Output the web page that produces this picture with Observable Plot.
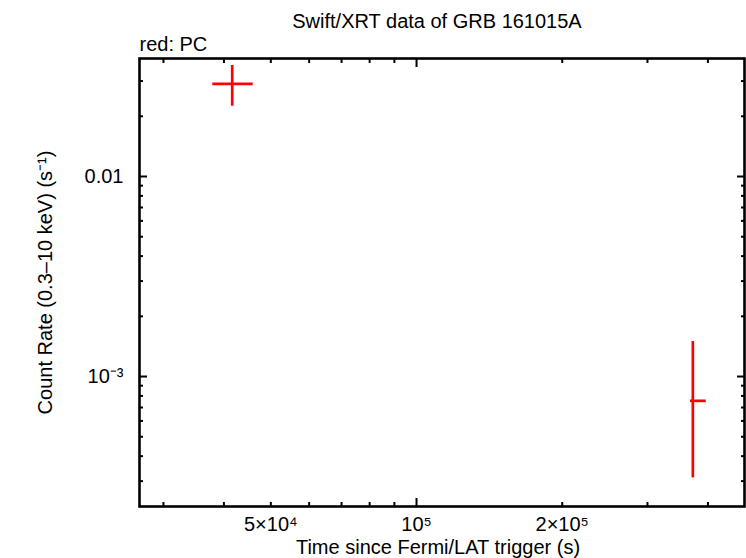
<!DOCTYPE html>
<html><head><meta charset="utf-8">
<script src="https://cdn.jsdelivr.net/npm/d3@7"></script>
<script src="https://cdn.jsdelivr.net/npm/@observablehq/plot@0.6"></script>
<style>body{margin:0;background:#fff} #chart svg{font-family:"Liberation Sans",Arial,sans-serif;overflow:visible}</style>
</head><body><div id="chart"></div>
<script>
const title = "Swift/XRT data of GRB 161015A";
const subtitle = "red: PC";
const xLabel = "Time since Fermi/LAT trigger (s)";
const yLabel = "Count Rate (0.3–10 keV) (s⁻¹)";
const xDomain = [26770, 476000];
const yDomain = [2.24e-4, 0.0389];
const time = [41610, 372300];
const timeLo = [37940, 368200];
const timeHi = [45980, 396800];
const rate = [0.02907, 7.56e-4];
const rateLo = [0.02246, 3.115e-4];
const rateHi = [0.03589, 1.496e-3];
const xMajorTicks = [1e5];
const xMinorTicks = [3e4, 4e4, 5e4, 6e4, 7e4, 8e4, 9e4, 2e5, 3e5, 4e5];
const xTickValues = [5e4, 1e5, 2e5];
const xTickLabels = ["5×10⁴", "10⁵", "2×10⁵"];
const yMajorTicks = [1e-3, 1e-2];
const yMinorTicks = [3e-4, 4e-4, 5e-4, 6e-4, 7e-4, 8e-4, 9e-4, 2e-3, 3e-3, 4e-3, 5e-3, 6e-3, 7e-3, 8e-3, 9e-3, 2e-2, 3e-2];
const yTickValues = [1e-3, 1e-2];
const yTickLabels = ["10⁻³", "0.01"];

const points = time.map((t, i) => ({t, tLo: timeLo[i], tHi: timeHi[i], r: rate[i], rLo: rateLo[i], rHi: rateHi[i]}));
const none = () => "";
const tickStyle = {stroke: "black", strokeWidth: 2, label: null, tickFormat: none};

const chart = Plot.plot({
  width: 746,
  height: 558,
  marginLeft: 139,
  marginRight: 2,
  marginTop: 58,
  marginBottom: 52,
  style: {background: "white", color: "black"},
  x: {type: "log", domain: xDomain},
  y: {type: "log", domain: yDomain},
  marks: [
    Plot.axisX(xMajorTicks, {anchor: "bottom", tickSize: -8, ...tickStyle}),
    Plot.axisX(xMinorTicks, {anchor: "bottom", tickSize: -4, ...tickStyle}),
    Plot.axisX(xMajorTicks, {anchor: "top", tickSize: -8, ...tickStyle}),
    Plot.axisX(xMinorTicks, {anchor: "top", tickSize: -4, ...tickStyle}),
    Plot.axisY(yMajorTicks, {anchor: "left", tickSize: -8, ...tickStyle}),
    Plot.axisY(yMinorTicks, {anchor: "left", tickSize: -4, ...tickStyle}),
    Plot.axisY(yMajorTicks, {anchor: "right", tickSize: -8, ...tickStyle}),
    Plot.axisY(yMinorTicks, {anchor: "right", tickSize: -4, ...tickStyle}),
    Plot.axisX(xTickValues, {anchor: "bottom", tickSize: 0, tickPadding: 10, fontSize: 20, label: null,
      tickFormat: d => xTickLabels[xTickValues.indexOf(d)]}),
    Plot.axisY(yTickValues, {anchor: "left", tickSize: 0, tickPadding: 16, fontSize: 20, label: null,
      tickFormat: d => yTickLabels[yTickValues.indexOf(d)]}),
    Plot.frame({stroke: "black", strokeWidth: 2.6}),
    Plot.ruleY(points, {y: "r", x1: "tLo", x2: "tHi", stroke: "red", strokeWidth: 2.7}),
    Plot.ruleX(points, {x: "t", y1: "rLo", y2: "rHi", stroke: "red", strokeWidth: 2.7}),
    Plot.text([title], {text: d => d, frameAnchor: "top", lineAnchor: "middle", dx: -5, dy: -37, fontSize: 20}),
    Plot.text([subtitle], {text: d => d, frameAnchor: "top-left", textAnchor: "start", lineAnchor: "middle", dy: -14, fontSize: 20}),
    Plot.text([xLabel], {text: d => d, frameAnchor: "bottom", lineAnchor: "middle", dx: -4, dy: 41, fontSize: 20}),
    Plot.text([yLabel], {text: d => d, frameAnchor: "left", textAnchor: "middle", lineAnchor: "middle", rotate: -90, dx: -94, fontSize: 20})
  ]
});
document.getElementById("chart").appendChild(chart);
</script></body></html>
